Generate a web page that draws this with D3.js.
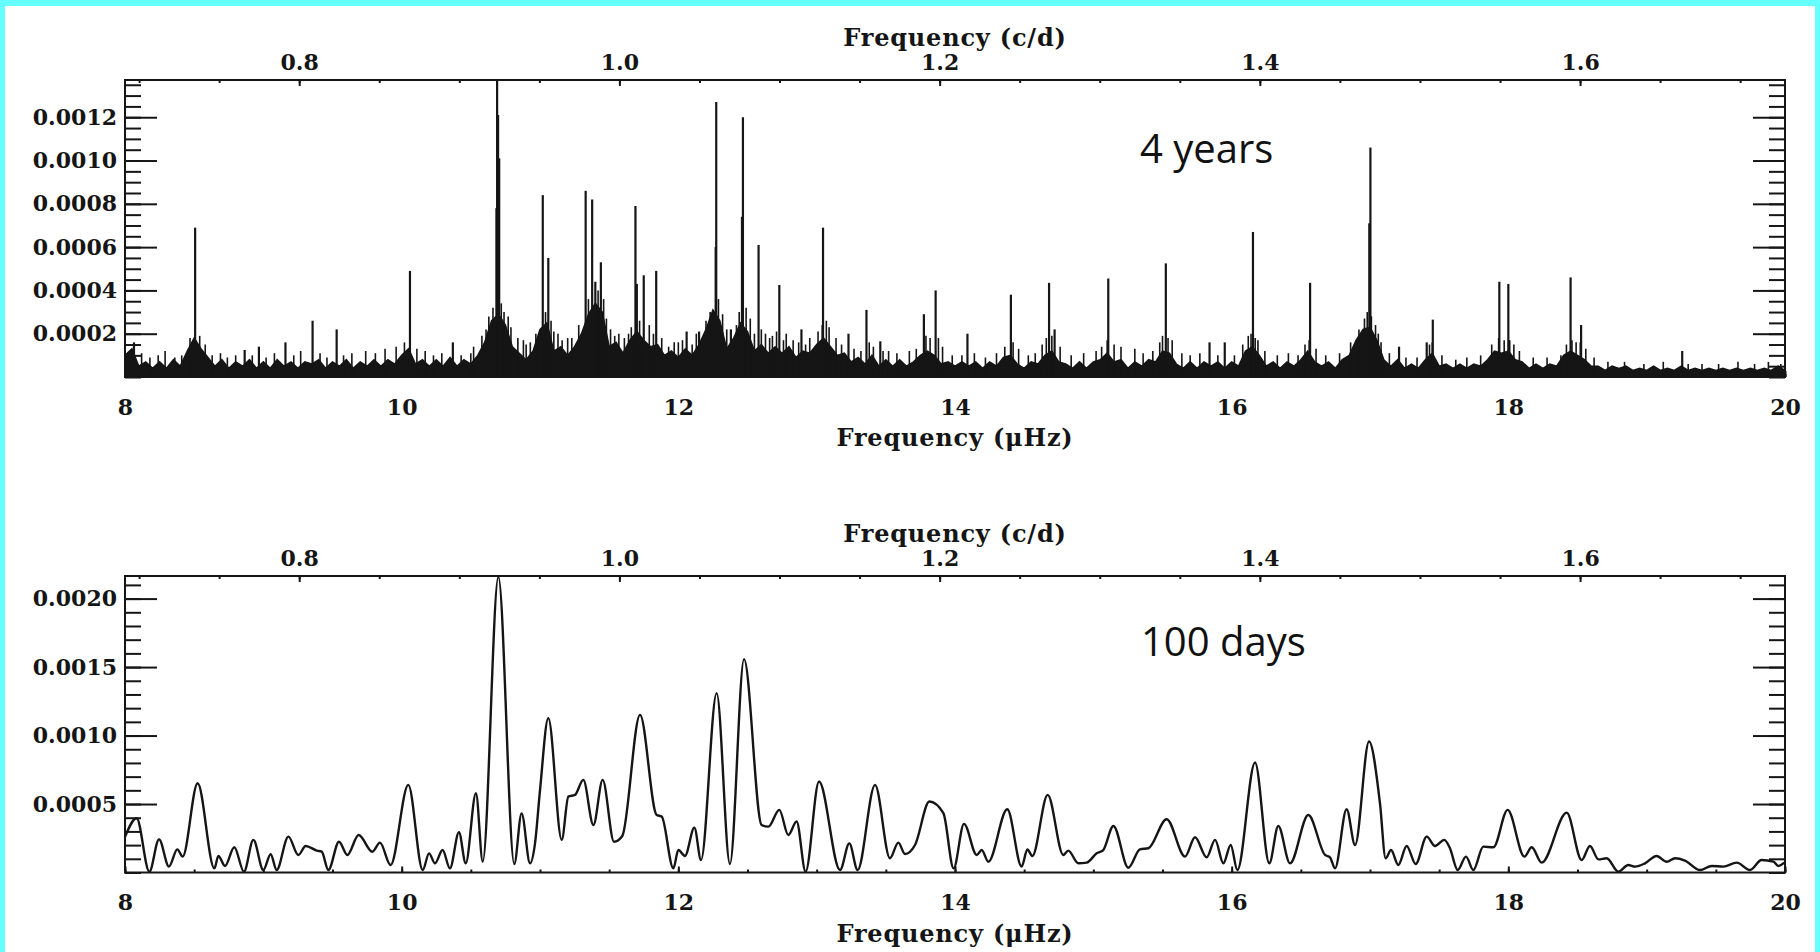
<!DOCTYPE html>
<html><head><meta charset="utf-8">
<script src="https://cdn.jsdelivr.net/npm/d3@7"></script>
<style>
html,body{margin:0;padding:0;background:#fff;overflow:hidden;}
svg{display:block;}
</style></head><body>
<svg id="chart" width="1820" height="952"></svg>
<script>
// ---------------- DATA ----------------
// x axes
const xTicksMuHz = [8, 10, 12, 14, 16, 18, 20];
const xTickLabelsMuHz = ["8", "10", "12", "14", "16", "18", "20"];
const xTicksCd = [0.8, 1.0, 1.2, 1.4, 1.6];
const xTickLabelsCd = ["0.8", "1.0", "1.2", "1.4", "1.6"];
const muHzToCd = 0.0864;

// top panel (4 years), amplitudes in units of 1e-4
const topYTicks = [2, 4, 6, 8, 10, 12];
const topYTickLabels = ["0.0002", "0.0004", "0.0006", "0.0008", "0.0010", "0.0012"];
const topYMax = 13.72;
// upper edge of the dense noise band, sampled every 0.05 uHz from 8.00 to 20.00
const noiseFreq0 = 8.0, noiseStep = 0.05;
const noiseTop = [
 1.0,1.3,0.5,0.7,0.4,0.7,0.4,0.8,0.5,1.2,1.8,1.3,0.9,0.5,0.8,0.4,0.7,0.5,0.8,0.4,
 0.7,0.4,0.8,0.5,0.7,0.4,0.7,0.6,0.8,0.4,0.7,0.5,0.8,0.4,0.7,0.5,0.8,0.5,0.8,0.6,
 1.0,1.3,0.6,0.8,0.5,0.8,0.5,0.9,0.5,0.8,0.6,1.0,1.6,2.6,2.9,2.4,1.4,1.1,0.8,1.2,
 2.2,2.5,1.2,1.4,1.0,1.4,2.0,2.9,3.4,3.0,1.4,1.6,1.1,1.7,2.1,1.7,1.4,1.5,1.0,1.2,
 0.9,1.3,1.0,1.5,2.2,3.1,2.6,1.3,1.8,2.5,2.1,1.2,1.5,1.1,1.4,1.1,1.4,0.9,1.2,1.1,
 1.5,1.8,1.4,1.0,1.1,0.7,0.9,0.6,1.0,0.5,0.8,0.5,0.8,0.5,0.7,1.0,1.2,1.0,0.6,0.7,
 0.5,0.7,0.5,0.7,0.4,0.7,0.5,0.9,1.0,0.6,0.4,0.7,0.6,1.0,1.2,0.7,0.6,0.4,0.7,0.4,
 0.7,0.8,1.1,0.7,0.8,0.4,0.7,0.5,0.8,0.7,1.2,1.1,0.6,0.4,0.7,0.4,0.7,0.5,0.7,0.4,
 0.7,0.5,1.2,1.4,1.0,0.5,0.7,0.4,0.7,0.5,0.8,1.2,0.7,0.5,0.7,0.4,0.8,1.0,1.7,2.2,
 2.3,1.7,0.8,0.5,0.8,0.4,0.6,0.4,0.8,1.1,0.5,0.6,0.4,0.6,0.4,0.6,0.5,0.8,1.2,1.1,
 1.2,0.8,0.7,0.4,0.6,0.4,0.6,0.5,1.0,1.2,1.0,0.8,0.5,0.5,0.3,0.5,0.4,0.5,0.3,0.4,
 0.3,0.5,0.3,0.4,0.3,0.5,0.3,0.4,0.3,0.4,0.3,0.4,0.3,0.4,0.3,0.4,0.3,0.4,0.3,0.5,
 0.3
];
// main spikes
const spikeFreq = [8.065,8.507,8.865,8.968,9.160,9.356,9.530,10.060,10.370,10.685,10.690,10.697,10.705,
 11.020,11.060,11.330,11.377,11.400,11.440,11.690,11.700,11.750,11.840,12.060,12.150,12.270,12.274,
 12.380,12.460,12.467,12.580,12.730,12.890,13.046,13.230,13.360,13.460,13.775,13.860,14.090,14.404,
 14.680,14.720,15.108,15.524,15.840,15.950,16.154,16.567,16.995,17.003,17.210,17.410,17.454,17.935,
 18.000,18.450,18.526,19.257];
const spikeAmp = [1.6,6.9,1.25,1.4,1.6,2.6,2.2,4.9,1.6,7.8,14.0,12.1,10.1,
 8.4,5.5,8.6,8.2,4.4,5.3,7.9,4.3,4.7,4.9,2.1,2.1,6.0,12.7,
 2.2,7.4,12.0,6.1,4.25,2.2,6.9,2.0,3.1,1.65,2.9,4.0,2.0,3.8,
 4.35,2.2,4.55,5.25,1.6,1.6,6.7,4.35,7.1,10.6,1.4,1.6,2.65,4.4,
 4.3,4.6,2.4,1.2];
// small noise spikes
const minorSpikeFreq = [8.12,8.18,8.24,8.29,8.36,8.41,8.47,8.54,8.58,8.63,8.69,8.74,8.80,8.92,9.02,9.08,9.22,9.27,9.41,9.46,
 9.58,9.64,9.74,9.81,9.88,9.96,10.02,10.11,10.17,10.23,10.29,10.43,10.50,10.58,10.63,10.74,10.79,10.84,10.90,10.97,
 11.10,11.16,11.23,11.28,11.48,11.54,11.61,11.66,11.79,11.88,11.93,12.00,12.10,12.20,12.32,12.42,12.52,12.63,12.68,12.78,
 12.83,12.95,13.01,13.09,13.14,13.27,13.32,13.41,13.52,13.58,13.67,13.72,13.82,13.91,13.98,14.05,14.14,14.22,14.30,14.36,
 14.46,14.53,14.58,14.63,14.76,14.84,14.93,15.02,15.06,15.15,15.20,15.30,15.36,15.43,15.48,15.57,15.64,15.70,15.77,15.90,
 16.02,16.08,16.12,16.19,16.24,16.33,16.41,16.48,16.53,16.61,16.68,16.78,16.86,16.92,16.96,17.04,17.08,17.14,17.26,17.34,
 17.43,17.52,17.62,17.70,17.80,17.88,17.97,18.04,18.08,18.18,18.28,18.38,18.42,18.49,18.56,18.62,18.72,18.84,18.98,19.12,
 19.30,19.40,19.52,19.66,19.78,19.88,19.97,
 10.52,10.61,10.66,10.72,10.77,10.88,10.93,11.04,11.08,11.13,11.20,11.35,11.42,11.46,11.51,11.57,11.64,11.72,11.82,11.97,
 12.03,12.13,12.23,12.29,12.35,12.44,12.49,12.55,12.60,12.66,12.71,12.76,12.87,12.92,13.04,13.07,13.18,13.38,13.48,13.79,
 13.88,14.42,14.66,14.70,15.10,15.50,15.54,16.14,16.17,16.56,16.98,17.01,17.06,17.45,17.93,18.01,18.46,18.52];
const minorSpikeAmp = [1.1,0.9,1.0,1.2,0.9,1.0,1.8,1.9,1.5,1.0,1.1,0.9,1.0,1.0,0.9,1.1,1.0,1.2,1.1,0.9,
 1.0,1.1,1.2,1.1,1.3,1.4,1.6,1.3,1.2,1.0,1.1,1.0,1.1,1.9,2.8,3.0,2.3,1.8,1.5,2.0,
 2.1,1.7,1.8,2.4,2.7,1.9,1.8,2.3,2.4,1.8,1.4,1.6,1.5,2.6,2.9,2.4,2.7,2.0,1.9,2.0,
 1.7,1.8,2.1,2.3,1.8,1.3,1.2,1.4,1.2,1.1,1.2,1.3,1.8,1.4,1.0,1.0,1.1,0.9,1.1,1.4,
 1.3,1.0,1.1,1.5,1.4,1.0,1.1,1.2,1.4,1.5,1.4,1.3,1.1,1.2,1.6,1.7,1.1,1.0,1.1,1.0,
 1.0,1.5,1.9,1.7,1.2,1.0,1.1,1.0,1.5,1.3,1.0,1.1,1.6,2.2,2.7,2.4,1.6,1.1,0.9,0.9,
 1.5,1.0,0.8,0.9,1.0,1.5,1.7,1.5,1.2,0.9,0.9,1.0,1.5,1.6,1.3,0.9,0.7,0.7,0.6,0.7,
 0.6,0.6,0.6,0.7,0.6,0.7,0.6,
 1.4,2.2,3.2,3.4,2.8,1.7,1.6,3.0,2.6,2.0,1.8,3.6,4.0,3.6,2.2,2.0,2.0,2.6,2.0,1.6,
 1.7,2.0,3.0,3.6,2.2,3.0,3.2,2.0,2.2,1.8,2.1,1.7,1.6,1.5,2.4,2.6,1.5,1.6,1.2,1.9,
 1.8,1.6,1.8,1.9,1.7,1.9,1.8,2.0,1.8,1.7,3.0,2.8,2.0,1.6,1.8,1.7,1.7,1.6];

// bottom panel (100 days), amplitudes in units of 1e-4
const botYTicks = [5, 10, 15, 20];
const botYTickLabels = ["0.0005", "0.0010", "0.0015", "0.0020"];
const botYMax = 21.65;
const freq100 = [8.000,8.084,8.176,8.246,8.318,8.378,8.417,8.525,8.646,8.675,8.723,8.790,8.860,8.928,9.000,9.053,9.096,
 9.181,9.253,9.306,9.386,9.422,9.470,9.547,9.607,9.689,9.788,9.843,9.920,10.048,10.152,10.198,10.241,10.296,10.349,
 10.414,10.463,10.537,10.586,10.699,10.814,10.867,10.928,10.964,11.000,11.060,11.157,11.205,11.253,11.313,11.386,11.453,
 11.535,11.595,11.723,11.843,11.880,11.964,12.000,12.048,12.116,12.164,12.277,12.373,12.475,12.602,12.651,12.730,12.795,
 12.855,12.920,13.017,13.169,13.236,13.296,13.422,13.530,13.590,13.639,13.711,13.815,13.916,13.990,14.065,14.157,14.193,
 14.241,14.378,14.482,14.523,14.559,14.670,14.783,14.819,14.892,14.952,15.024,15.072,15.145,15.253,15.337,15.398,15.530,
 15.663,15.735,15.819,15.880,15.940,15.993,16.041,16.169,16.272,16.337,16.422,16.554,16.675,16.711,16.747,16.831,16.892,
 16.993,17.072,17.113,17.152,17.205,17.265,17.330,17.410,17.470,17.537,17.578,17.634,17.694,17.747,17.819,17.892,17.995,
 18.116,18.169,18.241,18.422,18.530,18.590,18.651,18.711,18.795,18.867,18.916,18.988,19.072,19.145,19.205,19.277,19.386,
 19.470,19.554,19.651,19.747,19.831,19.916,19.952,19.995];
const amp100 = [2.6,3.96,0.06,2.42,0.43,1.69,1.16,6.52,0.30,1.21,0.48,1.84,0.06,2.38,0.18,1.33,0.18,
 2.62,1.28,1.94,1.60,1.52,0.18,2.25,1.28,2.74,1.52,2.18,0.55,6.40,0.18,1.40,0.67,1.64,0.30,
 2.94,0.67,5.79,0.79,21.6,0.62,4.32,0.67,2.13,6.0,11.27,2.38,5.54,5.67,6.76,3.47,6.76,
 2.25,2.67,11.51,4.20,4.08,0.30,1.64,1.21,3.28,0.91,13.10,0.62,15.58,3.47,3.35,4.57,2.74,
 3.72,0.06,6.64,0.18,2.13,0.18,6.40,1.04,2.18,1.35,2.01,5.18,4.33,0.30,3.55,1.28,1.64,
 0.79,4.62,0.43,1.69,1.21,5.67,1.28,1.60,0.67,0.72,1.40,1.64,3.40,0.35,1.69,1.77,3.89,
 1.16,2.57,1.11,2.38,0.67,2.01,0.18,8.03,0.67,3.40,0.67,4.20,1.28,1.11,0.30,4.62,2.01,
 9.56,5.06,1.04,1.64,0.55,1.94,0.62,2.62,1.94,2.38,1.77,0.18,1.16,0.18,1.89,1.84,4.57,
 1.16,1.84,0.72,4.37,0.91,1.94,0.96,1.04,0.06,0.55,0.43,0.67,1.21,0.79,1.04,0.87,0.18,
 0.48,0.43,0.72,0.18,0.91,0.79,0.48,0.72];

// ---------------- DRAWING ----------------
const svg = d3.select("#chart");
const INK = "#151515";
const FONT = "'DejaVu Serif', serif";
const X0 = 125, X1 = 1785;

// cyan frame of the slide
svg.append("rect").attr("x",0).attr("y",0).attr("width",1820).attr("height",6).attr("fill","#66ffff");
svg.append("rect").attr("x",0).attr("y",0).attr("width",5).attr("height",952).attr("fill","#66ffff");
svg.append("rect").attr("x",1815).attr("y",0).attr("width",5).attr("height",952).attr("fill","#66ffff");

const x = d3.scaleLinear().domain([8, 20]).range([X0, X1]);
const xCd = d3.scaleLinear().domain([8 * muHzToCd, 20 * muHzToCd]).range([X0, X1]);

function panel(cfg) {
  const y = d3.scaleLinear().domain([0, cfg.yMax]).range([cfg.yBottom, cfg.yTop]);
  const g = svg.append("g");
  const clipId = "clip" + cfg.id;
  svg.append("clipPath").attr("id", clipId).append("rect")
    .attr("x", X0).attr("y", cfg.yTop).attr("width", X1 - X0).attr("height", cfg.yBottom - cfg.yTop);

  const style = sel => {
    sel.select(".domain").remove();
    sel.selectAll("line").attr("stroke", INK).attr("stroke-width", 2);
    sel.selectAll("text").attr("fill", INK).style("font-family", FONT)
      .style("font-weight", "bold").style("font-size", "22px");
  };

  // y axes (left with labels, right mirrored)
  const yMinor = d3.range(0, cfg.yMax + 1e-9, cfg.yMinorStep);
  g.append("g").attr("transform", `translate(${X0},0)`)
    .call(d3.axisLeft(y).tickValues(yMinor).tickSize(-16).tickSizeOuter(0).tickFormat("")).call(style);
  g.append("g").attr("transform", `translate(${X0},0)`)
    .call(d3.axisLeft(y).tickValues(cfg.yTicks).tickSize(-32).tickSizeOuter(0).tickPadding(8)
      .tickFormat((d, i) => cfg.yLabels[i])).call(style);
  g.append("g").attr("transform", `translate(${X1},0)`)
    .call(d3.axisRight(y).tickValues(yMinor).tickSize(-16).tickSizeOuter(0).tickFormat("")).call(style);
  g.append("g").attr("transform", `translate(${X1},0)`)
    .call(d3.axisRight(y).tickValues(cfg.yTicks).tickSize(-32).tickSizeOuter(0).tickFormat("")).call(style);

  // bottom axis in uHz
  g.append("g").attr("transform", `translate(0,${cfg.yBottom})`)
    .call(d3.axisBottom(x).tickValues(d3.range(8, 20.001, 0.5)).tickSize(-3).tickSizeOuter(0).tickFormat("")).call(style);
  g.append("g").attr("transform", `translate(0,${cfg.yBottom})`)
    .call(d3.axisBottom(x).tickValues(xTicksMuHz).tickSize(-6).tickSizeOuter(0).tickPadding(22)
      .tickFormat((d, i) => xTickLabelsMuHz[i])).call(style);
  // top axis in c/d
  g.append("g").attr("transform", `translate(0,${cfg.yTop})`)
    .call(d3.axisTop(xCd).tickValues(d3.range(0.70, 1.7001, 0.05)).tickSize(-3).tickSizeOuter(0).tickFormat("")).call(style);
  g.append("g").attr("transform", `translate(0,${cfg.yTop})`)
    .call(d3.axisTop(xCd).tickValues(xTicksCd).tickSize(-6).tickSizeOuter(0).tickPadding(10)
      .tickFormat((d, i) => xTickLabelsCd[i])).call(style);

  // frame
  g.append("rect").attr("x", X0).attr("y", cfg.yTop).attr("width", X1 - X0).attr("height", cfg.yBottom - cfg.yTop)
    .attr("fill", "none").attr("stroke", INK).attr("stroke-width", 2);

  // axis titles
  g.append("text").attr("x", (X0 + X1) / 2).attr("y", cfg.yTop - 34).attr("text-anchor", "middle")
    .style("font-family", FONT).style("font-weight", "bold").style("font-size", "24px")
    .style("letter-spacing", "0.8px").attr("fill", INK)
    .text("Frequency (c/d)");
  g.append("text").attr("x", (X0 + X1) / 2).attr("y", cfg.yBottom + 69).attr("text-anchor", "middle")
    .style("font-family", FONT).style("font-weight", "bold").style("font-size", "24px")
    .style("letter-spacing", "0.8px").attr("fill", INK)
    .text("Frequency (\u03bcHz)");

  // label inside
  g.append("text").attr("x", cfg.labelX).attr("y", cfg.labelY)
    .style("font-family", "'Open Sans', sans-serif").style("font-size", "40px").attr("fill", "#111")
    .text(cfg.label);

  const plot = svg.append("g").attr("clip-path", `url(#${clipId})`);
  cfg.draw(plot, y);
}

// Top: 4 years
panel({
  id: "top", yTop: 80, yBottom: 377, yMax: topYMax, yMinorStep: 0.5,
  yTicks: topYTicks, yLabels: topYTickLabels, label: "4 years", labelX: 1140, labelY: 163,
  draw: (plot, y) => {
    const noise = noiseTop.map((v, i) => [noiseFreq0 + i * noiseStep, v]);
    plot.append("path").datum(noise)
      .attr("d", d3.area().x(d => x(d[0])).y0(y(0)).y1(d => y(d[1])).curve(d3.curveLinear))
      .attr("fill", INK).attr("stroke", INK).attr("stroke-width", 1.5).attr("stroke-linejoin", "miter");
    const line = d3.line().x(d => x(d[0])).y(d => y(d[1]));
    plot.selectAll("path.minor").data(minorSpikeFreq.map((f, i) => [[f, 0], [f, minorSpikeAmp[i]]]))
      .join("path").attr("class", "minor").attr("d", line)
      .attr("stroke", INK).attr("stroke-width", 1.6).attr("fill", "none");
    plot.selectAll("path.spike").data(spikeFreq.map((f, i) => [[f, 0], [f, spikeAmp[i]]]))
      .join("path").attr("class", "spike").attr("d", line)
      .attr("stroke", INK).attr("stroke-width", 2.2).attr("fill", "none");
  }
});

// Bottom: 100 days
panel({
  id: "bot", yTop: 576, yBottom: 872.5, yMax: botYMax, yMinorStep: 1,
  yTicks: botYTicks, yLabels: botYTickLabels, label: "100 days", labelX: 1141, labelY: 656,
  draw: (plot, y) => {
    const pts = freq100.map((f, i) => [f, amp100[i]]);
    plot.append("path").datum(pts)
      .attr("d", d3.line().x(d => x(d[0])).y(d => y(d[1])).curve(d3.curveMonotoneX))
      .attr("fill", "none").attr("stroke", INK).attr("stroke-width", 2.4).attr("stroke-linejoin", "round");
  }
});
</script>
</body></html>
